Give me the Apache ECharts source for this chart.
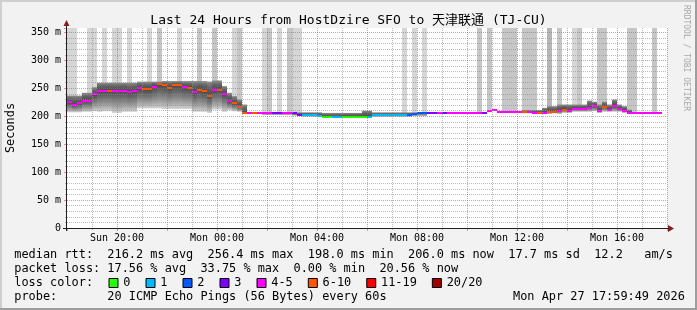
<!DOCTYPE html>
<html><head><meta charset="utf-8">
<script src="https://cdn.jsdelivr.net/npm/echarts@6/dist/echarts.min.js"></script>
<style>html,body{margin:0;padding:0;background:#f2f2f2;}#c{width:697px;height:310px;}</style>
</head><body><div id="c"></div>
<script>
// ---------------- data ----------------
const titleText = 'Last 24 Hours from HostDzire SFO to 天津联通 (TJ-CU)';
const yAxisName = 'Seconds';
const xTickHours = [2, 6, 10, 14, 18, 22];
const xTickLabels = ['Sun 20:00', 'Mon 00:00', 'Mon 04:00', 'Mon 08:00', 'Mon 12:00', 'Mon 16:00'];
const yTickValues = [0, 50, 100, 150, 200, 250, 300, 350];
const yTickLabels = ['0', '50 m', '100 m', '150 m', '200 m', '250 m', '300 m', '350 m'];
const binHours = 0.2; // 12-minute consolidation steps, starting Sun 18:00

// median rtt per step (ms)
const median = [
 225,221,223,228,228,239,245.5,246,246,246,
 246,246,243,245,250,248,248,253,257,255.6,
 251,255.6,255.6,252,251,243.7,247.8,244.8,235.9,246.7,
 247.8,240,227,223,217,206.6,206.6,206.6,206.6,206.6,
 206.6,206.6,206.6,206.6,206.6,205,203,202.5,202.5,201.5,
 200.5,198.2,198.2,198.2,198.2,199,199,199,199.5,199.5,
 199,201.5,201.5,201.5,201.5,202,201.5,201.5,201.5,204,
 206.6,206.6,206.6,206.6,206.6,206.6,206.6,206.6,206.6,206.6,
 206.6,206.6,206.6,206.6,210,211.5,208.4,208.4,208.4,208.4,
 208.4,208.4,208.4,206.6,206.6,206.6,208,208,210,212,
 210,213,213,213,215.6,218,210,216.8,211.5,218,
 213,210,206.6,206.6,206.6,206.6,206.6,206.6,206.6
];
// loss colour class per step (index into lossLabels)
const lossIdx = [
 4,4,4,4,4,4,4,4,5,4,
 4,4,4,4,4,5,5,4,5,5,
 5,5,5,4,5,4,5,5,5,4,
 5,4,4,5,5,5,4,5,4,4,
 4,3,3,4,4,3,3,1,1,1,
 1,0,0,1,1,0,0,0,0,0,
 1,1,1,1,1,1,1,1,2,2,
 2,2,3,3,4,3,4,4,4,4,
 4,4,4,3,4,4,4,4,4,4,
 4,5,4,4,5,4,5,5,4,5,
 4,4,4,4,4,4,4,5,4,4,
 4,4,4,4,4,4,4,4,4
];
// smoke range (lowest / highest ping) per step (ms)
const smokeLo = [
 207,207,207,208,208,209,208,209,209,206,
 206,208,208,208,214,214,214,214,214,213,
 213,213,213,213,213,208,208,208,206,212,
 212,208,211,209,208,204,204,204,204,202,
 202,202,202,202,202,201,200,199,199,199,
 199,197,197,197,197,197,197,197,197,198,
 198,199,199,199,199,199,199,199,199,200,
 200,200,null,null,null,null,null,null,null,null,
 null,null,null,null,null,null,null,null,null,null,
 null,205,205,205,205,204,204,205,204,206,
 206,208,208,208,208,209,206,208,208,208,
 208,206,204,null,null,null,null,null,null
];
const smokeHi = [
 237,237,237,242,242,252,260,260,260,260,
 260,260,260,260,262,262,262,262,262,263,
 263,263,263,263,263,263,263,263,262,264,
 264,254,242,236,230,221,207,207,207,207,
 207,207,207,207,207,207,207,207,207,207,
 207,206,206,206,206,206,206,206,206,210,
 210,207,207,207,207,207,207,207,207,207,
 207,207,null,null,null,null,null,null,null,null,
 null,null,null,null,null,null,null,null,null,null,
 null,211,211,211,211,215,218,218,221,221,
 221,221,221,221,228,226,221,226,221,230,
 221,218,212,null,null,null,null,null,null
];
// off-scale smoke columns (0 none, 1..3 shade level)
const tall = [
 1,1,0,0,1,1,0,1,0,1,
 1,0,1,0,0,0,1,0,2,0,
 0,0,1,0,0,0,2,0,0,2,
 0,0,0,1,2,0,0,0,0,1,
 2,0,1,0,2,1,1,0,0,0,
 0,0,0,0,0,0,0,0,0,0,
 0,0,0,0,0,0,0,1,0,1,
 0,1,0,0,0,0,0,0,0,0,
 0,0,2,0,2,0,0,2,2,2,
 0,2,2,2,0,0,3,0,2,0,
 0,1,2,0,0,0,2,2,0,0,
 0,0,2,2,0,0,0,2,0
];
const lossLabels = ['0', '1', '2', '3', '4-5', '6-10', '11-19', '20/20'];
const lossColors = ['#26ff00', '#00b8ff', '#0059ff', '#7e00ff', '#ff00ff', '#ff5500', '#ff0000', '#a00000'];
const statsRtt = 'median rtt:  216.2 ms avg  256.4 ms max  198.0 ms min  206.0 ms now  17.7 ms sd  12.2   am/s';
const statsLoss = 'packet loss: 17.56 % avg  33.75 % max  0.00 % min  20.56 % now';
const lossTitle = 'loss color:';
const probeText = 'probe:       20 ICMP Echo Pings (56 Bytes) every 60s';
const dateText = 'Mon Apr 27 17:59:49 2026';
const watermark = 'RRDTOOL / TOBI OETIKER';

// ---------------- chart ----------------
const Y_MAX = 358;
const MONO = '"DejaVu Sans Mono", "Noto Sans CJK SC", monospace';
const minorColor = 'rgba(143,143,143,0.6)';
const majorColor = 'rgba(222,79,79,0.6)';
const tallColors = [null, '#d6d6d6', '#c6c6c6', '#b6b6b6'];

const rows = median.map((m, i) => [i * binHours, (i + 1) * binHours, m]);

function rectBetween(api, x0, x1, v0, v1) {
  const a = api.coord([x0, v1]);
  const b = api.coord([x1, v0]);
  return { x: a[0], y: a[1], width: b[0] - a[0], height: b[1] - a[1] };
}

const smokeUp = { type: 'linear', x: 0, y: 0, x2: 0, y2: 1, colorStops: [
  { offset: 0, color: '#8c8c8c' }, { offset: 0.45, color: '#626262' }, { offset: 1, color: '#4a4a4a' } ] };
const smokeDown = { type: 'linear', x: 0, y: 0, x2: 0, y2: 1, colorStops: [
  { offset: 0, color: '#4a4a4a' }, { offset: 0.4, color: '#767676' },
  { offset: 0.75, color: '#a8a8a8' }, { offset: 1, color: '#d4d4d4' } ] };

const series = [
  { type: 'custom', name: 'tall', z: 2, clip: true, data: rows, encode: { x: [0, 1], y: 2 },
    renderItem(params, api) {
      const i = params.dataIndex, lvl = tall[i];
      if (!lvl) return null;
      return { type: 'rect', shape: rectBetween(api, api.value(0), api.value(1), median[i], Y_MAX),
               style: { fill: tallColors[lvl] } };
    } },
  { type: 'custom', name: 'smoke', z: 3, clip: true, data: rows, encode: { x: [0, 1], y: 2 },
    renderItem(params, api) {
      const i = params.dataIndex;
      if (smokeLo[i] == null || smokeHi[i] == null) return null;
      const x0 = api.value(0), x1 = api.value(1), m = median[i];
      return { type: 'group', children: [
        { type: 'rect', shape: rectBetween(api, x0, x1, m, smokeHi[i]), style: { fill: smokeUp } },
        { type: 'rect', shape: rectBetween(api, x0, x1, smokeLo[i], m), style: { fill: smokeDown } }
      ] };
    } },
  { type: 'custom', name: 'median', z: 4, clip: true, data: rows, encode: { x: [0, 1], y: 2 },
    renderItem(params, api) {
      const i = params.dataIndex;
      const a = api.coord([api.value(0), median[i]]);
      const b = api.coord([api.value(1), median[i]]);
      return { type: 'rect', shape: { x: a[0], y: Math.round(a[1]) - 1, width: b[0] - a[0], height: 2 },
               style: { fill: lossColors[lossIdx[i]] } };
    } }
];

// graphic decorations
const graphic = [];
graphic.push({ type: 'rect', shape: { x: 0, y: 0, width: 697, height: 2 }, style: { fill: '#cfcfcf' }, z: 100 });
graphic.push({ type: 'rect', shape: { x: 0, y: 0, width: 2, height: 310 }, style: { fill: '#cfcfcf' }, z: 100 });
graphic.push({ type: 'rect', shape: { x: 0, y: 308, width: 697, height: 2 }, style: { fill: '#9e9e9e' }, z: 101 });
graphic.push({ type: 'rect', shape: { x: 695, y: 0, width: 2, height: 310 }, style: { fill: '#9e9e9e' }, z: 101 });
graphic.push({ type: 'line', shape: { x1: 63, y1: 228.5, x2: 669, y2: 228.5 }, style: { stroke: '#1f1f1f', lineWidth: 1 }, z: 50 });
graphic.push({ type: 'polygon', shape: { points: [[668, 225], [674, 228.5], [668, 232]] }, style: { fill: '#7f1f1f' }, z: 51 });
graphic.push({ type: 'line', shape: { x1: 66.5, y1: 231, x2: 66.5, y2: 25 }, style: { stroke: '#1f1f1f', lineWidth: 1 }, z: 50 });
graphic.push({ type: 'polygon', shape: { points: [[63.5, 26], [66.5, 20], [69.5, 26]] }, style: { fill: '#7f1f1f' }, z: 51 });
graphic.push({ type: 'text', x: 348.5, y: 21, z: 60, style: { text: titleText, fontFamily: MONO, fontSize: 13, fill: '#000', align: 'center', verticalAlign: 'middle' } });
graphic.push({ type: 'text', x: 10.5, y: 128, rotation: Math.PI / 2, z: 60, style: { text: yAxisName, fontFamily: MONO, fontSize: 11.9, fill: '#000', align: 'center', verticalAlign: 'middle' } });
graphic.push({ type: 'text', x: 686, y: 5, rotation: -Math.PI / 2, z: 60, style: { text: watermark, fontFamily: MONO, fontSize: 8, fill: '#a8a8a8', align: 'left', verticalAlign: 'middle' } });
const LX = 14.3, CW = 7.15, LFS = 11.9;
const lineY = [254.5, 268.5, 282.5, 296.5];
[statsRtt, statsLoss, lossTitle, probeText].forEach((t, k) => {
  graphic.push({ type: 'text', x: LX, y: lineY[k], z: 60, style: { text: t, fontFamily: MONO, fontSize: LFS, fill: '#000', align: 'left', verticalAlign: 'middle' } });
});
graphic.push({ type: 'text', x: 513, y: lineY[3], z: 60, style: { text: dateText, fontFamily: MONO, fontSize: LFS, fill: '#000', align: 'left', verticalAlign: 'middle' } });
let bx = 108.5;
lossLabels.forEach((lab, k) => {
  graphic.push({ type: 'rect', z: 60, shape: { x: bx + 0.5, y: 278.5, width: 9, height: 9 }, style: { fill: lossColors[k], stroke: '#000', lineWidth: 1 } });
  graphic.push({ type: 'text', z: 60, x: bx + 14.8, y: lineY[2], style: { text: lab, fontFamily: MONO, fontSize: LFS, fill: '#000', align: 'left', verticalAlign: 'middle' } });
  bx += 37 + CW * (lab.length - 1);
});

const option = {
  animation: false,
  backgroundColor: '#f2f2f2',
  grid: { left: 67, top: 28, width: 600, height: 200, show: true, backgroundColor: '#ffffff', borderWidth: 0 },
  xAxis: {
    type: 'value', min: 0, max: 24, interval: 2, z: 10,
    axisLine: { show: false },
    axisTick: { show: true, length: 3, lineStyle: { color: majorColor } },
    minorTick: { show: true, splitNumber: 2, length: 2, lineStyle: { color: minorColor } },
    axisLabel: { margin: 5, fontFamily: MONO, fontSize: 10, color: '#000',
      formatter: v => { const k = xTickHours.indexOf(v); return k < 0 ? '' : xTickLabels[k]; } },
    splitLine: { show: true, showMinLine: false, lineStyle: { color: majorColor, type: [1, 1], width: 1 } },
    minorSplitLine: { show: true, lineStyle: { color: minorColor, type: [1, 1], width: 1 } }
  },
  yAxis: {
    type: 'value', min: 0, max: Y_MAX, interval: 50, z: 10,
    axisLine: { show: false },
    axisTick: { show: true, length: 3, lineStyle: { color: majorColor } },
    minorTick: { show: true, splitNumber: 5, length: 2, lineStyle: { color: minorColor } },
    axisLabel: { margin: 6, fontFamily: MONO, fontSize: 10, color: '#000', showMaxLabel: false,
      formatter: v => { const k = yTickValues.indexOf(v); return k < 0 ? '' : yTickLabels[k]; } },
    splitLine: { show: true, showMinLine: false, showMaxLine: false, lineStyle: { color: majorColor, type: [1, 1], width: 1 } },
    minorSplitLine: { show: true, lineStyle: { color: minorColor, type: [1, 1], width: 1 } }
  },
  series: series,
  graphic: graphic
};

const chart = echarts.init(document.getElementById('c'), null, { renderer: 'canvas', width: 697, height: 310 });
chart.setOption(option);
</script>
</body></html>
